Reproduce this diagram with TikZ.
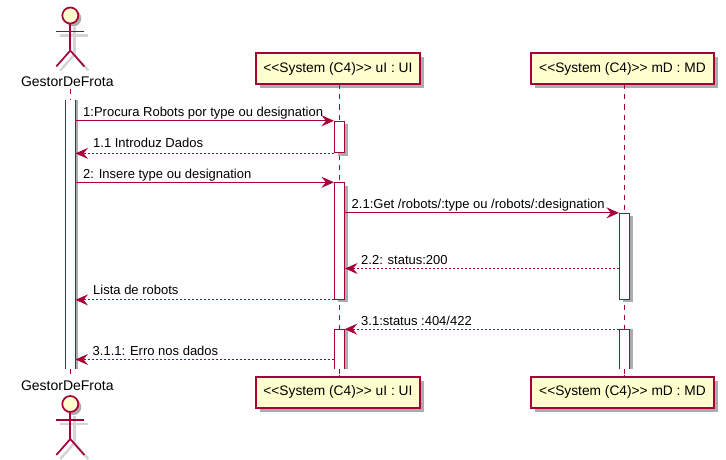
\documentclass[tikz,border=0pt]{standalone}
\usepackage{fontspec}
\setmainfont{Liberation Sans}
\usetikzlibrary{arrows.meta,shadows}
\definecolor{umlred}{HTML}{A80036}
\definecolor{umlfill}{HTML}{FEFECE}
\definecolor{umlshade}{HTML}{ACACAC}
\newcommand{\stereo}{<\kern0pt<System (C4)>\kern0pt>}
\tikzset{
  box/.style={draw=umlred,line width=1.7pt,fill=umlfill,minimum height=31pt,inner sep=0pt,
    font=\fontsize{13.75}{16}\selectfont,text=black,
    drop shadow={shadow xshift=4pt,shadow yshift=-4pt,fill=umlshade,opacity=1}},
  actorname/.style={inner sep=0pt,font=\fontsize{14}{16}\selectfont,text=black},
  head/.style={circle,draw=umlred,line width=1.7pt,fill=umlfill,minimum size=16pt,inner sep=0pt},
  limb/.style={draw=umlred,line width=1.7pt},
  limbshade/.style={draw=black!17,line width=2.5pt},
  lifeline/.style={draw=umlred,line width=0.9pt,dash pattern=on 5pt off 5pt},
  bar/.style={fill=white,minimum width=10pt,inner sep=0pt},
  barline/.style={draw=umlred,line width=1.1pt},
  barshade/.style={fill=umlshade},
  closedbar/.style={bar,draw=umlred,line width=1.1pt,drop shadow={shadow xshift=3pt,shadow yshift=-3pt,fill=umlshade,opacity=1}},
  msg/.style={draw=umlred,line width=1pt,-{Stealth[length=12.5pt,width=11pt,inset=4.5pt]}},
  reply/.style={msg,dash pattern=on 2pt off 2pt},
  msgtext/.style={anchor=base west,inner sep=0pt,font=\fontsize{13}{15}\selectfont,text=black},
}
\begin{document}
\begin{tikzpicture}[x=1pt,y=-1pt]
  \useasboundingbox (0,0) rectangle (726,460);
  % participants
  \node[actorname] (gfTop) at (67.3,81.5) {GestorDeFrota};
  \node[actorname] (gfBot) at (67.3,386) {GestorDeFrota};
  \node[box,minimum width=163.6pt] (uiTop) at (337.9,68.8) {\stereo{} uI : UI};
  \node[box,minimum width=182.4pt] (mdTop) at (622.5,68.8) {\stereo{} mD : MD};
  \node[box,minimum width=163.6pt] (uiBot) at (337.9,392.2) {\stereo{} uI : UI};
  \node[box,minimum width=182.4pt] (mdBot) at (622.5,392.2) {\stereo{} mD : MD};
  % actors
  \foreach \ay/\an in {15.5/gfHeadTop,404/gfHeadBot} {
    \draw[limbshade] (74.3,\ay+12) -- (74.3,\ay+39) (60.3,\ay+20) -- (88.3,\ay+20);
    \draw[limbshade] (74.3,\ay+39) -- (60.3,\ay+55) (74.3,\ay+39) -- (88.3,\ay+55);
    \node[head,drop shadow={shadow xshift=3pt,shadow yshift=-3pt,fill=umlshade,opacity=1}] (\an) at (70.3,\ay) {};
    \draw[limb] (\an.south) -- (70.3,\ay+35) (56.3,\ay+16) -- (84.3,\ay+16);
    \draw[limb] (70.3,\ay+35) -- (56.3,\ay+51) (70.3,\ay+35) -- (84.3,\ay+51);
  }
  % lifelines
  \coordinate (gfA) at (70.3,89);
  \coordinate (gfB) at (70.3,375);
  \coordinate (uiA) at (339.5,84.5);
  \coordinate (uiB) at (339.5,376);
  \coordinate (mdA) at (624.5,84.5);
  \coordinate (mdB) at (624.5,376);
  \draw[lifeline] (gfA) -- (gfB);
  \draw[lifeline] (uiA) -- (uiB);
  \draw[lifeline] (mdA) -- (mdB);
  % activations
  \fill[barshade] (75.3,100) rectangle (78.3,369);
  \node[bar,minimum height=269pt] (gf) at (70.3,234.5) {};
  \draw[barline] (gf.north west) -- (gf.south west) (gf.north east) -- (gf.south east);
  \node[closedbar,minimum height=31.5pt] (ui1) at (339.5,137.1) {};
  \node[closedbar,minimum height=116.5pt] (ui2) at (339.5,241.1) {};
  \node[closedbar,minimum height=86pt] (md1) at (624.5,256.4) {};
  \fill[barshade] (344.5,329.4) rectangle (347.5,369);
  \fill[barshade] (629.5,329.4) rectangle (632.5,369);
  \node[bar,minimum height=39.6pt] (ui3) at (339.5,349.2) {};
  \node[bar,minimum height=39.6pt] (md2) at (624.5,349.2) {};
  \draw[barline] (ui3.south west) |- (ui3.north east) -- (ui3.south east);
  \draw[barline] (md2.south west) |- (md2.north east) -- (md2.south east);
  \draw[lifeline] (339.5,369) -- (uiB);
  \draw[lifeline] (624.5,369) -- (mdB);
  % messages
  \coordinate (y22) at (0,268.5);
  \coordinate (y311) at (0,359.5);
  \draw[msg] (gf.east |- ui1.north) -- (ui1.north west);
  \draw[reply] (ui1.south west) -- (gf.east |- ui1.south);
  \draw[msg] (gf.east |- ui2.north) -- (ui2.north west);
  \draw[msg] (ui2.east |- md1.north) -- (md1.north west);
  \draw[reply] (md1.west |- y22) -- (ui2.east |- y22);
  \draw[reply] (ui2.south west) -- (gf.east |- ui2.south);
  \draw[reply] (md2.north west) -- (ui3.north east);
  \draw[reply] (ui3.west |- y311) -- (gf.east |- y311);
  % labels
  \node[msgtext] (t1) at (83,117) {1:Procura Robots por type ou designation};
  \node[msgtext] (t2) at (93,147.5) {1.1 Introduz Dados};
  \node[msgtext] (t3) at (83,178) {2: Insere type ou designation};
  \node[msgtext] (t4) at (351.5,208.5) {2.1:Get /robots/:type ou /robots/:designation};
  \node[msgtext] (t5) at (361,264) {2.2: status:200};
  \node[msgtext] (t6) at (93,294.5) {Lista de robots};
  \node[msgtext] (t7) at (361,325) {3.1:status :404/422};
  \node[msgtext] (t8) at (92.5,355) {3.1.1: Erro nos dados};
\end{tikzpicture}
\end{document}
